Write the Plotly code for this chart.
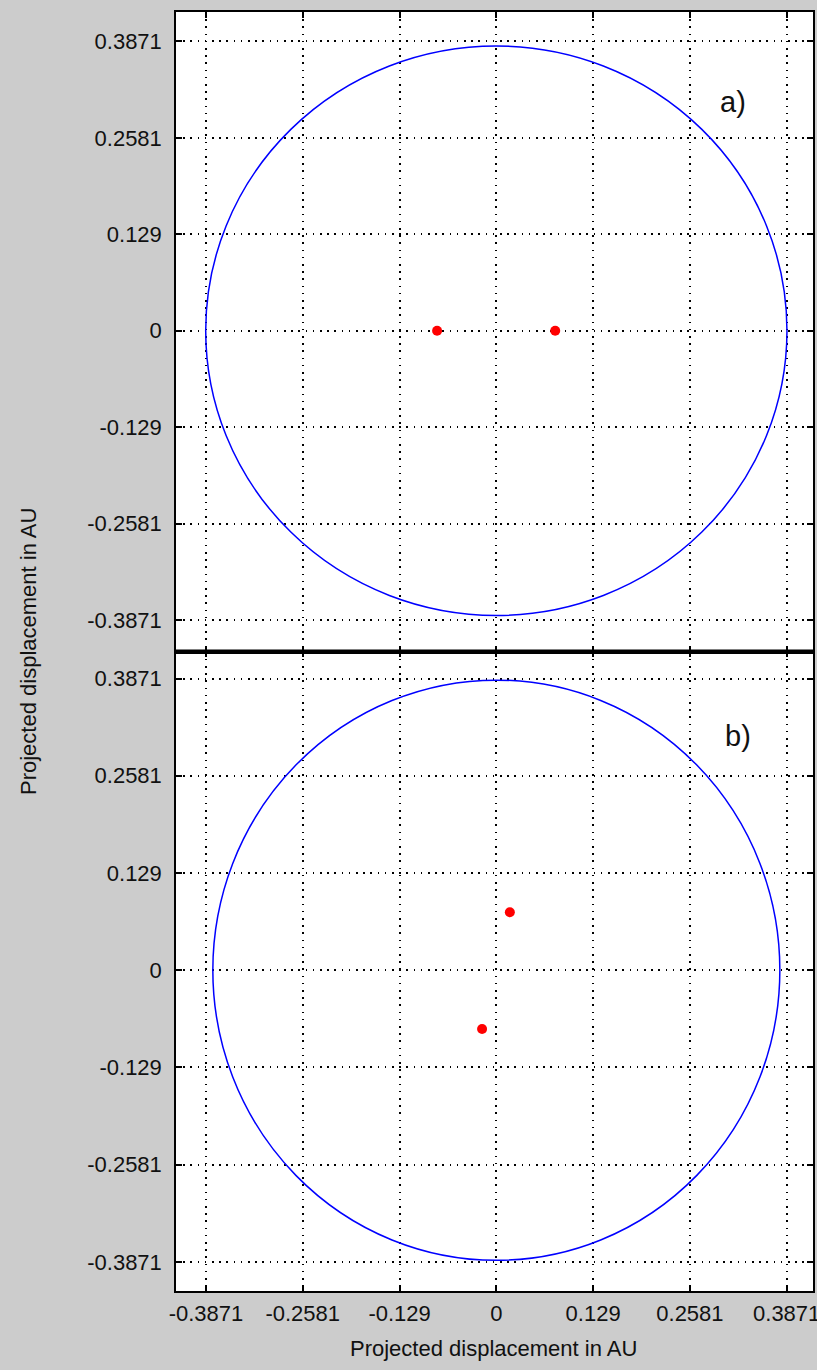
import plotly.graph_objects as go

# ---- data ----
tick_vals = [-0.3871, -0.2581, -0.129, 0.0, 0.129, 0.2581, 0.3871]
tick_text = ["-0.3871", "-0.2581", "-0.129", "0", "0.129", "0.2581", "0.3871"]

# panel a: projected orbit semi-axes (x, y) and the two stars
orbit_a_semi = [0.3875, 0.381]
stars_a_x = [-0.0790, 0.0785]
stars_a_y = [0.0, 0.0]

# panel b
orbit_b_semi = [0.378, 0.385]
stars_b_x = [0.018, -0.019]
stars_b_y = [0.077, -0.078]

x_range = [-0.4271, 0.4222]
ya_range = [-0.4292, 0.4265]
yb_range = [-0.4257, 0.4230]

panel_labels = ["a)", "b)"]
axis_title = "Projected displacement in AU"

FONT = "Liberation Sans, Arial, sans-serif"
TXT = "#111111"

fig = go.Figure()

fig.add_trace(go.Scatter(x=stars_a_x, y=stars_a_y, mode="markers",
                         marker=dict(color="#ff0000", size=10),
                         xaxis="x", yaxis="y", hoverinfo="skip"))
fig.add_trace(go.Scatter(x=stars_b_x, y=stars_b_y, mode="markers",
                         marker=dict(color="#ff0000", size=10),
                         xaxis="x2", yaxis="y2", hoverinfo="skip"))

common = dict(
    showgrid=True, gridcolor="#000000", gridwidth=1.6, griddash="1.6px,5.6px",
    zeroline=False, showline=True, linecolor="black", linewidth=1.5,
    mirror="ticks", ticks="inside", ticklen=6, tickwidth=1.5, tickcolor="black",
    tickmode="array", tickvals=tick_vals, ticktext=tick_text,
    tickfont=dict(family=FONT, size=22, color=TXT),
    ticklabeloverflow="allow", automargin=False,
)

fig.update_layout(
    width=817, height=1370,
    margin=dict(l=176, r=4, t=12, b=79, autoexpand=False),
    paper_bgcolor="#cccccc", plot_bgcolor="white",
    showlegend=False,
    xaxis=dict(common, domain=[0, 1], range=x_range, anchor="y", showticklabels=False),
    yaxis=dict(common, domain=[0.5, 1], range=ya_range, anchor="x", ticklabelstandoff=8),
    xaxis2=dict(common, domain=[0, 1], range=x_range, anchor="y2", ticklabelstandoff=2),
    yaxis2=dict(common, domain=[0, 0.5], range=yb_range, anchor="x2", ticklabelstandoff=8),
)

# orbits (ellipses in data coordinates)
fig.add_shape(type="circle", xref="x", yref="y",
              x0=-orbit_a_semi[0], x1=orbit_a_semi[0],
              y0=-orbit_a_semi[1], y1=orbit_a_semi[1],
              line=dict(color="#0000ff", width=1.5), layer="above")
fig.add_shape(type="circle", xref="x2", yref="y2",
              x0=-orbit_b_semi[0], x1=orbit_b_semi[0],
              y0=-orbit_b_semi[1], y1=orbit_b_semi[1],
              line=dict(color="#0000ff", width=1.5), layer="above")

# thick separator between panels
fig.add_shape(type="line", xref="paper", yref="paper", x0=0, x1=1, y0=0.5, y1=0.5,
              line=dict(color="black", width=4), layer="above")

fig.add_annotation(text=panel_labels[0], xref="x", yref="y", x=0.2955, y=0.306,
                   xanchor="left", yanchor="middle", showarrow=False,
                   font=dict(family=FONT, size=29, color=TXT))
fig.add_annotation(text=panel_labels[1], xref="x2", yref="y2", x=0.302, y=0.311,
                   xanchor="left", yanchor="middle", showarrow=False,
                   font=dict(family=FONT, size=29, color=TXT))

fig.add_annotation(text=axis_title, xref="paper", yref="paper", x=0.4984, y=-0.0453,
                   xanchor="center", yanchor="middle", showarrow=False,
                   font=dict(family=FONT, size=22, color=TXT))
fig.add_annotation(text=axis_title, xref="paper", yref="paper", x=-0.2323, y=0.4996,
                   xanchor="center", yanchor="middle", showarrow=False, textangle=-90,
                   font=dict(family=FONT, size=22, color=TXT))

fig.write_html("out.html")
